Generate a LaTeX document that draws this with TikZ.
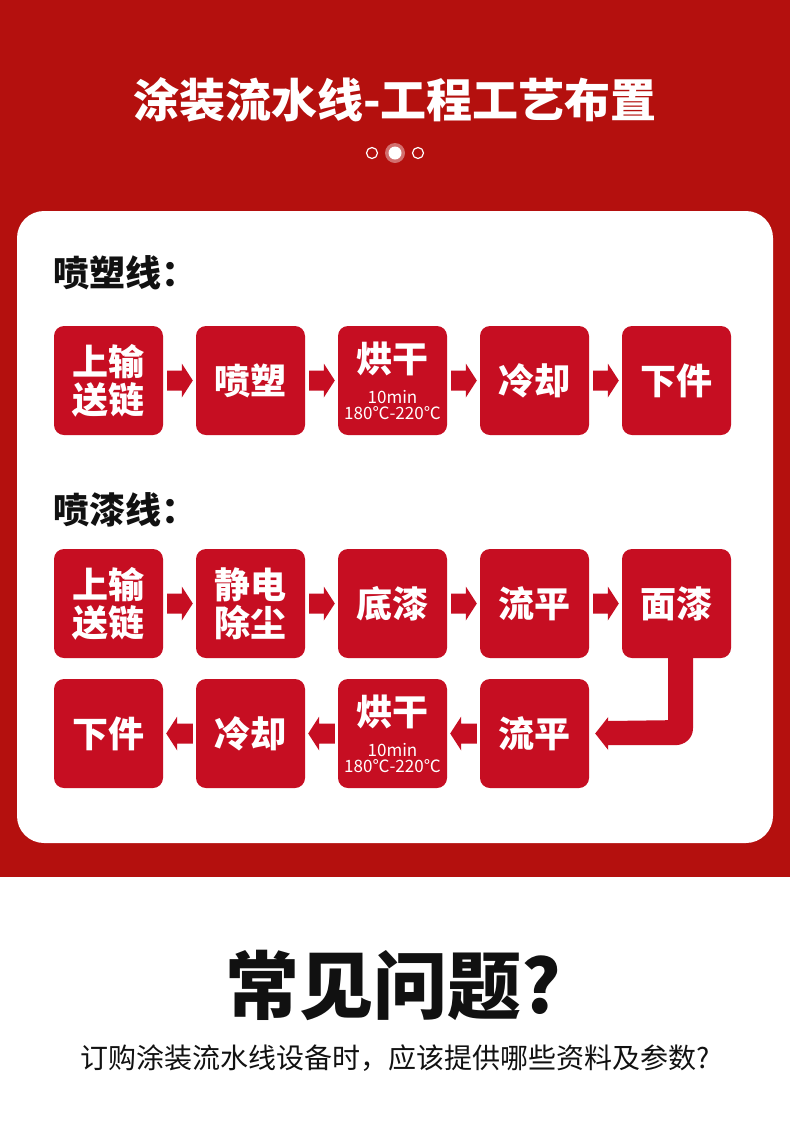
\documentclass[tikz,border=0pt]{standalone}
\usepackage{fontspec}
\setmainfont{Noto Sans CJK SC}
\usetikzlibrary{calc}
\definecolor{hdr}{RGB}{180,16,14}
\definecolor{boxred}{RGB}{198,14,34}
\definecolor{ink}{RGB}{17,17,17}
\tikzset{
  pbox/.style={fill=boxred, minimum width=109pt, minimum height=109pt, rounded corners=10pt,
    text=white, align=center, inner sep=0pt, font=\fontsize{36}{38}\selectfont\bfseries},
  arrfill/.style={fill=boxred},
  hdrtext/.style={anchor=west, text=ink, inner sep=0pt, font=\fontsize{36}{38}\selectfont\bfseries},
  dotring/.style={draw=white, line width=1.2pt}
}
\newcommand\smalltx[1]{{\fontsize{17}{16}\selectfont\mdseries #1}}
% right-pointing block arrow from #1 to #2
\newcommand\rarr[2]{\fill[arrfill] ($(#1.east)+(4,-10)$) -- ($(#2.west)+(-14,-10)$) -- ++(0,-7)
  -- ($(#2.west)+(-3,0)$) -- ($(#2.west)+(-14,17)$) -- ++(0,-7) -- ($(#1.east)+(4,10)$) -- cycle;}
% left-pointing block arrow from #1 to #2
\newcommand\larr[2]{\fill[arrfill] ($(#1.west)+(-3,-10)$) -- ($(#2.east)+(14,-10)$) -- ++(0,-7)
  -- ($(#2.east)+(3,0)$) -- ($(#2.east)+(14,17)$) -- ++(0,-7) -- ($(#1.west)+(-3,10)$) -- cycle;}
\begin{document}
\begin{tikzpicture}[x=1pt,y=-1pt]
\useasboundingbox (0,0) rectangle (790,1128);
\fill[white] (0,0) rectangle (790,1128);
\fill[hdr] (0,0) rectangle (790,877);
\fill[white, rounded corners=27pt] (17,211) rectangle (773,843);
% title
\node[text=white, font=\fontsize{46}{50}\selectfont\bfseries] (title) at (395,100) {涂装流水线-工程工艺布置};
% dots
\draw[dotring] (372,153) circle (5.5pt);
\draw[dotring] (418,153) circle (5.5pt);
\fill[white, opacity=0.4] (395,153) circle (10pt);
\fill[white] (395,153) circle (6.5pt);
% headers
\node[hdrtext] (h1) at (53,273) {喷塑线：};
\node[hdrtext] (h2) at (53,510) {喷漆线：};
% row 1
\node[pbox] (a1) at (108.5,380.5) {上输\\送链};
\node[pbox] (a2) at (250.5,380.5) {喷塑};
\node[pbox] (a3) at (392.5,380.5) {烘干\\[-7pt]\smalltx{10min}\\[-22pt]\smalltx{180℃-220℃}};
\node[pbox] (a4) at (534.5,380.5) {冷却};
\node[pbox] (a5) at (676.5,380.5) {下件};
\rarr{a1}{a2}\rarr{a2}{a3}\rarr{a3}{a4}\rarr{a4}{a5}
% row 2
\node[pbox] (e1) at (108.5,603.5) {上输\\送链};
\node[pbox] (e2) at (250.5,603.5) {静电\\除尘};
\node[pbox] (e3) at (392.5,603.5) {底漆};
\node[pbox] (e4) at (534.5,603.5) {流平};
\node[pbox] (e5) at (676.5,603.5) {面漆};
\rarr{e1}{e2}\rarr{e2}{e3}\rarr{e3}{e4}\rarr{e4}{e5}
% row 3
\node[pbox] (f1) at (108.5,733.5) {下件};
\node[pbox] (f2) at (250.5,733.5) {冷却};
\node[pbox] (f3) at (392.5,733.5) {烘干\\[-7pt]\smalltx{10min}\\[-22pt]\smalltx{180℃-220℃}};
\node[pbox] (f4) at (534.5,733.5) {流平};
\larr{f4}{f3}\larr{f3}{f2}\larr{f2}{f1}
% elbow arrow from e5 down and left to f4
\fill[arrfill] ($(e5.south)+(-8.5,0)$) -- ($(e5.south)+(16.5,0)$) -- ($(e5.south)+(16.5,70)$)
  .. controls ($(e5.south)+(16.5,80)$) and ($(e5.south)+(8.5,87)$) .. ($(e5.south)+(-1.5,87)$)
  -- ($(f4.east)+(19,11.5)$) -- ($(f4.east)+(19,16.5)$) -- ($(f4.east)+(6,0)$)
  -- ($(f4.east)+(19,-16.5)$) -- ($(f4.east)+(19,-12.5)$) -- ($(e5.south)+(-8.5,62)$) -- cycle;
% bottom
\node[text=ink, font=\fontsize{74}{80}\selectfont\bfseries] (q) at (393,985) {常见问题?};
\node[text=ink, font=\fontsize{28}{32}\selectfont] (sub) at (395,1058) {订购涂装流水线设备时，应该提供哪些资料及参数?};
\end{tikzpicture}
\end{document}
